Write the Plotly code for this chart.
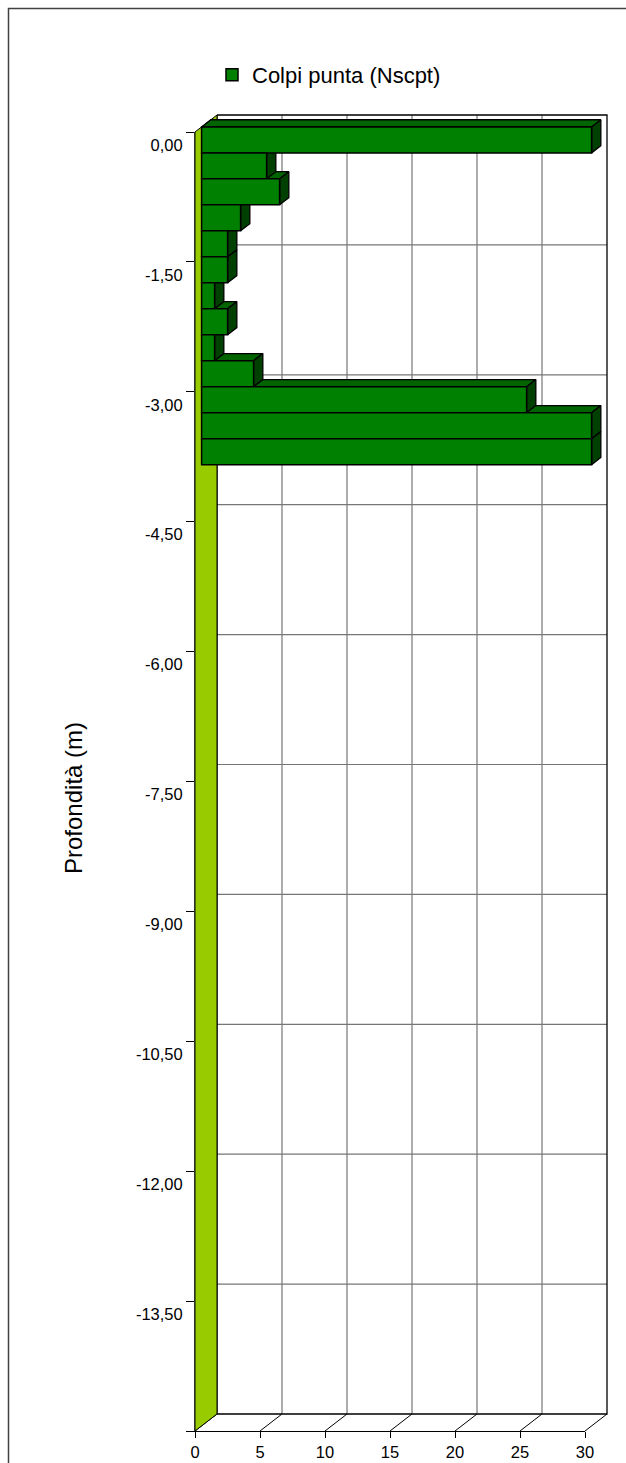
import plotly.graph_objects as go

# Dynamic penetrometer test: blow counts for each 30 cm advance of the tip
depth_top = [0.00, -0.30, -0.60, -0.90, -1.20, -1.50, -1.80, -2.10, -2.40, -2.70, -3.00, -3.30, -3.60]
colpi = [30, 5, 6, 3, 2, 2, 1, 2, 1, 4, 25, 30, 30]
step = 0.30

x_ticks = [0, 5, 10, 15, 20, 25, 30]
depth_ticks = [0.00, -1.50, -3.00, -4.50, -6.00, -7.50, -9.00, -10.50, -12.00, -13.50]
depth_tick_text = ["0,00", "-1,50", "-3,00", "-4,50", "-6,00", "-7,50", "-9,00", "-10,50", "-12,00", "-13,50"]
x_max = 30
depth_max = -15.00

series_name = "Colpi punta (Nscpt)"
y_title = "Profondità (m)"

# ---- page geometry (pixels) ----
W, H = 626, 1463
FX0, FX1 = 195, 585      # front plane: value 0 and value x_max
FY0, FY1 = 132, 1431     # front plane: depth 0 and depth_max
OX, OY = 22, 17          # oblique offset of the back wall
Z0, Z1 = 0.30, 0.72      # depth slice occupied by the bars

FONT = "Liberation Sans, Arial, sans-serif"
BAR_FRONT = "#008000"
BAR_TOP = "#006400"
BAR_SIDE = "#004000"
WALL = "#99CC00"
GRID = "#767676"

sx = (FX1 - FX0) / x_max            # px per blow
sy = (FY1 - FY0) / (0 - depth_max)  # px per metre
dxu, dyu = OX / sx, OY / sy         # back-wall offset in data units

# main (projection) axes span the whole page
rx = [-FX0 / sx, (W - FX0) / sx]
ry = [-(H - FY0) / sy, FY0 / sy]


def proj(v, d, z):
    return v + z * dxu, d + z * dyu


def poly_trace(polys, fill, color, width, lcolor="black"):
    xs, ys = [], []
    for poly in polys:
        for (v, d, z) in poly + [poly[0]]:
            px, py = proj(v, d, z)
            xs.append(px)
            ys.append(py)
        xs.append(None)
        ys.append(None)
    return go.Scatter(
        x=xs, y=ys, mode="lines",
        fill="toself" if fill else None, fillcolor=fill,
        line=dict(color=lcolor if width else color, width=width),
        hoverinfo="skip", showlegend=False, xaxis="x", yaxis="y",
    )


def line_trace(segments, color, width):
    xs, ys = [], []
    for a, b in segments:
        for p in (a, b):
            px, py = proj(*p)
            xs.append(px)
            ys.append(py)
        xs.append(None)
        ys.append(None)
    return go.Scatter(x=xs, y=ys, mode="lines", line=dict(color=color, width=width),
                      hoverinfo="skip", showlegend=False, xaxis="x", yaxis="y")


traces = []

# back wall grid
grid_segs = [((v, depth_max, 1), (v, 0, 1)) for v in x_ticks if 0 < v < x_max]
grid_segs += [((0, d, 1), (x_max, d, 1)) for d in depth_ticks if depth_max < d < 0]
traces.append(line_trace(grid_segs, GRID, 1.2))

# back wall frame
traces.append(poly_trace([[(0, 0, 1), (x_max, 0, 1), (x_max, depth_max, 1), (0, depth_max, 1)]],
                         None, "black", 1.3))

# floor
floor_segs = [((v, depth_max, 0), (v, depth_max, 1)) for v in x_ticks]
traces.append(line_trace(floor_segs, "black", 1))

# left side wall
traces.append(poly_trace([[(0, 0, 0), (0, 0, 1), (0, depth_max, 1), (0, depth_max, 0)]],
                         WALL, WALL, 1))

# bar tops and sides, lower bars first
tops, sides = [], []
for d, v in reversed(list(zip(depth_top, colpi))):
    bot = d - step
    tops.append([(0, d, Z0), (v, d, Z0), (v, d, Z1), (0, d, Z1)])
    sides.append([(v, d, Z0), (v, d, Z1), (v, bot, Z1), (v, bot, Z0)])
traces.append(poly_trace(tops, BAR_TOP, BAR_TOP, 1.3))
traces.append(poly_trace(sides, BAR_SIDE, BAR_SIDE, 1.3))

# bar front faces on axes shifted to the bars' depth slice
traces.append(go.Bar(
    x=colpi, y=[d - step / 2 for d in depth_top], base=0, width=step,
    orientation="h", name=series_name,
    marker=dict(color=BAR_FRONT, line=dict(color="black", width=1.5)),
    xaxis="x4", yaxis="y4", hoverinfo="skip",
))

# invisible carriers so the front tick axes get drawn
for ya in ("y2", "y3"):
    traces.append(go.Scatter(x=[0, x_max], y=[depth_max, 0], mode="none",
                             xaxis="x2", yaxis=ya, showlegend=False, hoverinfo="skip"))

fig = go.Figure(traces)

hidden = dict(visible=False, showgrid=False, zeroline=False, fixedrange=True, automargin=False)
fig.update_layout(
    width=W, height=H,
    margin=dict(l=0, r=0, t=0, b=0, pad=0, autoexpand=False),
    paper_bgcolor="white", plot_bgcolor="rgba(0,0,0,0)",
    font=dict(family=FONT, color="black"),
    showlegend=True,
    legend=dict(
        x=212 / W, y=1 - 75 / H, xanchor="left", yanchor="middle",
        orientation="h", font=dict(size=22, family=FONT, color="black"),
        bgcolor="rgba(0,0,0,0)", borderwidth=0,
    ),
    xaxis=dict(domain=[0, 1], range=rx, anchor="y", **hidden),
    yaxis=dict(domain=[0, 1], range=ry, anchor="x", **hidden),
    xaxis4=dict(overlaying="x", anchor="y4", range=[rx[0] - Z0 * dxu, rx[1] - Z0 * dxu], **hidden),
    yaxis4=dict(overlaying="y", anchor="x4", range=[ry[0] - Z0 * dyu, ry[1] - Z0 * dyu], **hidden),
    # front axes: ticks and labels
    xaxis2=dict(
        domain=[FX0 / W, FX1 / W], range=[0, x_max], anchor="y2",
        tickvals=x_ticks, ticks="outside", ticklen=6, tickcolor="black", tickwidth=1,
        showline=True, linecolor="black", linewidth=1,
        showgrid=False, zeroline=False, fixedrange=True, automargin=False,
        tickfont=dict(size=16.5, family=FONT, color="black"),
    ),
    yaxis2=dict(
        domain=[1 - FY1 / H, 1 - FY0 / H], range=[depth_max, 0], anchor="x2",
        tickvals=depth_ticks + [depth_max], ticks="outside", ticklen=8,
        tickcolor="black", tickwidth=1, showticklabels=False,
        showline=True, linecolor="#303030", linewidth=1,
        showgrid=False, zeroline=False, fixedrange=True, automargin=False,
    ),
    yaxis3=dict(
        overlaying="y2", anchor="x2", side="left", range=[depth_max, 0],
        tickvals=[d - step / 2 for d in depth_ticks], ticktext=depth_tick_text,
        ticks="outside", ticklen=8, tickcolor="rgba(0,0,0,0)",
        showline=False, showgrid=False, zeroline=False, fixedrange=True, automargin=False,
        tickfont=dict(size=16.5, family=FONT, color="black"),
    ),
    annotations=[dict(
        text=y_title, textangle=-90, xref="paper", yref="paper",
        x=74 / W, y=1 - 798 / H, xanchor="center", yanchor="middle", showarrow=False,
        font=dict(size=24, family=FONT, color="black"),
    )],
    shapes=[dict(
        type="rect", xref="paper", yref="paper",
        x0=8.5 / W, x1=1.05, y0=-0.05, y1=1 - 8.5 / H,
        line=dict(color="#404040", width=1.5), fillcolor="rgba(0,0,0,0)", layer="above",
    )],
)

fig.write_html("out.html")
